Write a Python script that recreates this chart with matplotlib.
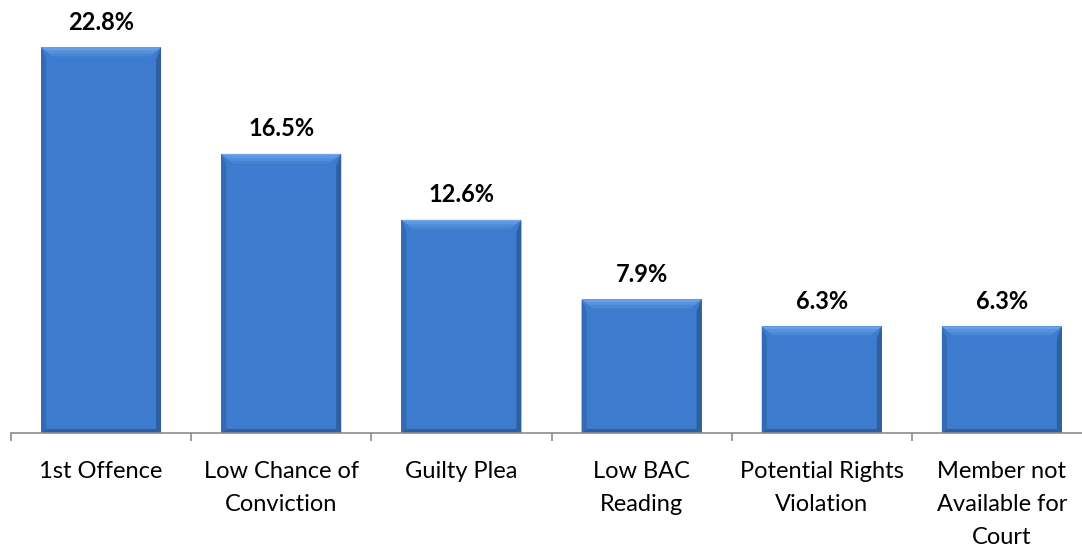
import numpy as np
import matplotlib.pyplot as plt
from matplotlib.patches import Polygon
from matplotlib.colors import to_rgb

categories = ['1st Offence', 'Low Chance of\nConviction', 'Guilty Plea',
              'Low BAC\nReading', 'Potential Rights\nViolation',
              'Member not\nAvailable for\nCourt']
values = [22.8, 16.5, 12.6, 7.9, 6.3, 6.3]
labels = ['22.8%', '16.5%', '12.6%', '7.9%', '6.3%', '6.3%']

W, H = 1082, 546
fig = plt.figure(figsize=(W / 100, H / 100), dpi=100)
# axes placed in pixel terms (axis runs off the right edge in the original)
x0, x1 = 11, 1092
base, top = 433, 10
ax = fig.add_axes([x0 / W, (H - base) / H, (x1 - x0) / W, (base - top) / H])
ax.set_xlim(-0.5, 5.5)
ax.set_ylim(0, 25)

px_x = (x1 - x0) / 6.0      # pixels per x unit
px_y = (base - top) / 25.0  # pixels per y unit

bw = 0.666
body = np.array(to_rgb('#3c7bcd'))
light = np.array(to_rgb('#72aaee'))
dark = '#2d609f'
side = '#3469b3'

for i, v in enumerate(values):
    l, r = i - bw / 2, i + bw / 2
    sd = 5 / px_x
    bot = 4 / px_y
    ax.add_patch(Polygon([(l, 0), (r, 0), (r, v), (l, v)], closed=True,
                         facecolor=body, edgecolor='none'))
    # sides
    ax.add_patch(Polygon([(l, 0), (l + sd, bot), (l + sd, v - 12 / px_y), (l, v)],
                         facecolor=side, edgecolor='none'))
    ax.add_patch(Polygon([(r, 0), (r - sd, bot), (r - sd, v - 12 / px_y), (r, v)],
                         facecolor=dark, edgecolor='none'))
    # bottom
    ax.add_patch(Polygon([(l, 0), (r, 0), (r - sd, bot), (l + sd, bot)],
                         facecolor=dark, edgecolor='none'))
    # top bevel, faded in bands
    n = 8
    for k in range(n):
        d0, d1 = 12 * k / n, 12 * (k + 1) / n
        c = light + (body - light) * (k / (n - 1)) ** 0.8
        ax.add_patch(Polygon([(l + d0 * 1.2 / px_x, v - d0 / px_y),
                              (r - d0 * 1.2 / px_x, v - d0 / px_y),
                              (r - d1 * 1.2 / px_x, v - d1 / px_y),
                              (l + d1 * 1.2 / px_x, v - d1 / px_y)],
                             facecolor=c, edgecolor='none'))
    ax.text(i, v + 25 / px_y, labels[i], ha='center', va='center',
            fontsize=17, fontweight='bold', family='Lato', color='black')

for s in ['top', 'right', 'left']:
    ax.spines[s].set_visible(False)
ax.spines['bottom'].set_color('#8c8c8c')
ax.spines['bottom'].set_linewidth(1.2)
ax.set_yticks([])
ax.set_xticks(np.arange(-0.5, 6.0, 1.0))
ax.set_xticklabels([])
ax.tick_params(axis='x', length=6, width=1.2, color='#8c8c8c')
ax.set_xticks(np.arange(6), minor=True)
ax.set_xticklabels(categories, minor=True, fontsize=17, family='Lato',
                   linespacing=1.7, va='top')
ax.tick_params(axis='x', which='minor', length=0, pad=20)

fig.savefig('out.png', dpi=100)
